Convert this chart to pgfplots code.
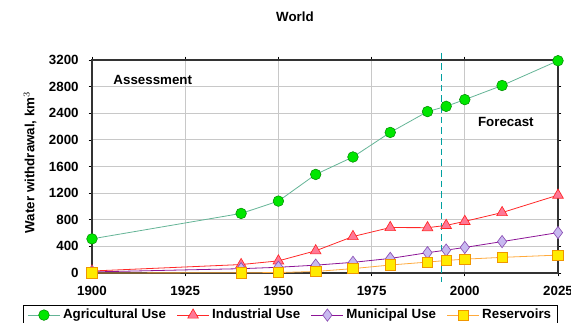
\documentclass[border=0pt]{standalone}
\usepackage{pgfplots}
\pgfplotsset{compat=1.18}
\usepackage{fontspec}
\setmainfont{Liberation Sans}

\definecolor{agriline}{RGB}{100,180,150}
\definecolor{agrifill}{RGB}{0,230,0}
\definecolor{agriedge}{RGB}{0,140,0}
\definecolor{indline}{RGB}{255,40,40}
\definecolor{indfill}{RGB}{255,120,150}
\definecolor{munline}{RGB}{140,20,150}
\definecolor{munfill}{RGB}{200,185,240}
\definecolor{munedge}{RGB}{140,80,180}
\definecolor{resline}{RGB}{255,170,60}
\definecolor{resfill}{RGB}{255,235,0}
\definecolor{resedge}{RGB}{240,150,0}
\definecolor{splitline}{RGB}{0,160,160}
\definecolor{gridgray}{RGB}{200,200,200}

\begin{document}
\begin{tikzpicture}[font=\bfseries]
\clip (-69pt,-36.75pt) rectangle (359.25pt,204.75pt);
\begin{axis}[
  scale only axis,
  width=349.5pt, height=159.75pt,
  xmin=1900, xmax=2025, ymin=0, ymax=3200,
  xtick={1900,1925,...,2025},
  ytick={0,400,...,3200},
  /pgf/number format/1000 sep={},
  /pgf/number format/assume math mode=true,
  tick label style={font=\bfseries\fontsize{10}{12}\selectfont},
  xticklabel style={yshift=-4pt},
  yticklabel style={xshift=-4pt},
  tick align=outside, major tick length=2.5pt,
  tick style={black, line width=0.5pt},
  xmajorgrids, ymajorgrids,
  grid style={gridgray, line width=0.7pt},
  axis line style={black!80, line width=0.8pt},
  ylabel={Water withdrawal, km$^{3}$},
  ylabel style={font=\bfseries\fontsize{10}{12}\selectfont, at={(axis description cs:-0.133,0.52)}, anchor=center},
  title={World},
  title style={font=\bfseries\fontsize{10}{12}\selectfont, at={(axis description cs:0.4356,1.164)}, anchor=center},
  clip=false,
  legend columns=4,
  legend style={at={(axis description cs:-0.148,-0.152)}, anchor=north west,
    font=\bfseries\fontsize{10}{11}\selectfont, draw=black, line width=0.8pt,
    /tikz/every even column/.append style={column sep=6pt},
    inner xsep=3pt, inner ysep=0.5pt},
  legend image code/.code={
    \draw[#1] (0pt,0pt) -- (24pt,0pt);
    \draw[#1, only marks] plot coordinates {(12pt,0pt)};
  },
]
\addplot[agriline, line width=0.6pt, mark=*, mark size=4pt,
  mark options={fill=agrifill, draw=agriedge, line width=0.4pt}]
  coordinates {(1900,513) (1940,895) (1950,1080) (1960,1481) (1970,1743)
    (1980,2112) (1990,2425) (1995,2504) (2000,2605) (2010,2817) (2025,3189)};
\addlegendentry{Agricultural Use}
\addplot[indline, line width=0.6pt, mark=triangle*, mark size=4.6pt,
  mark options={fill=indfill, draw=indline, line width=0.5pt}]
  coordinates {(1900,30) (1940,127) (1950,182) (1960,334) (1970,548)
    (1980,683) (1990,681) (1995,715) (2000,776) (2010,908) (2025,1170)};
\addlegendentry{Industrial Use}
\addplot[munline, line width=0.6pt, mark=diamond*, mark size=4.6pt,
  mark options={fill=munfill, draw=munedge, line width=0.5pt}]
  coordinates {(1900,16) (1940,65) (1950,86) (1960,118) (1970,160)
    (1980,219) (1990,305) (1995,344) (2000,384) (2010,472) (2025,607)};
\addlegendentry{Municipal Use}
\addplot[resline, line width=0.6pt, mark=square*, mark size=3.9pt,
  mark options={fill=resfill, draw=resedge, line width=0.5pt}]
  coordinates {(1900,0.3) (1940,3.7) (1950,6.5) (1960,23) (1970,66)
    (1980,120) (1990,164) (1995,188) (2000,208) (2010,235) (2025,269)};
\addlegendentry{Reservoirs}
\draw[splitline, line width=1pt, dash pattern=on 5pt off 3pt]
  (axis cs:1993.8,3310) -- (axis cs:1993.8,-140);
\node[anchor=west, font=\bfseries\fontsize{10}{12}\selectfont] at (axis cs:1904.5,2895) {Assessment};
\node[anchor=west, font=\bfseries\fontsize{10}{12}\selectfont] at (axis cs:2002.3,2265) {Forecast};
\end{axis}
\end{tikzpicture}
\end{document}
